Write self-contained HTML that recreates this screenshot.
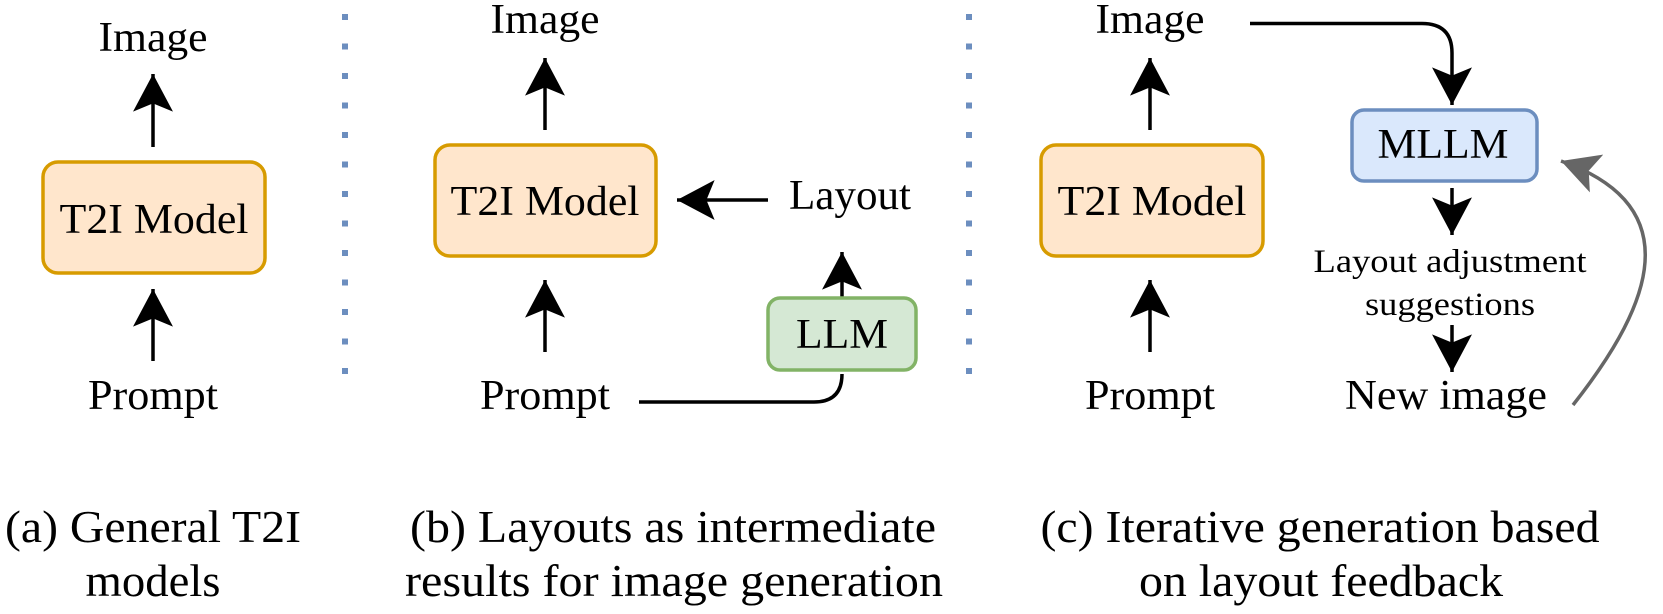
<!DOCTYPE html>
<html><head><meta charset="utf-8"><style>html,body{margin:0;padding:0;background:#fff}svg{display:block}</style></head>
<body>
<svg width="1663" height="614" viewBox="0 0 1663 614" xmlns="http://www.w3.org/2000/svg" font-family="'Liberation Serif', 'Times New Roman', Times, serif">
<defs>
<marker id="ah" markerUnits="userSpaceOnUse" markerWidth="40" markerHeight="40" viewBox="0 0 34 34" refX="32" refY="17" orient="auto">
<path d="M32,17 L0,0 L7,17 L0,34 Z" fill="#000"/>
</marker>
<marker id="ag" markerUnits="userSpaceOnUse" markerWidth="40" markerHeight="40" viewBox="0 0 34 34" refX="32" refY="17" orient="auto">
<path d="M32,17 L0,0 L7,17 L0,34 Z" fill="#666"/>
</marker>
</defs>
<g stroke="#6c8ebf" stroke-width="6" stroke-dasharray="6 23.5">
<line x1="345" y1="14" x2="345" y2="375"/>
<line x1="969" y1="14" x2="969" y2="375"/>
</g>
<g fill="none" stroke="#000" stroke-width="3.5">
<line x1="153" y1="147" x2="153" y2="74" marker-end="url(#ah)"/>
<line x1="153" y1="361" x2="153" y2="289" marker-end="url(#ah)"/>
<line x1="545" y1="130" x2="545" y2="58" marker-end="url(#ah)"/>
<line x1="545" y1="352" x2="545" y2="280" marker-end="url(#ah)"/>
<line x1="768" y1="200" x2="677" y2="200" marker-end="url(#ah)"/>
<line x1="842" y1="298" x2="842" y2="252" marker-end="url(#ah)"/>
<path d="M639,402 L814,402 Q842,402 842,374"/>
<line x1="1150" y1="130" x2="1150" y2="58" marker-end="url(#ah)"/>
<line x1="1150" y1="352" x2="1150" y2="280" marker-end="url(#ah)"/>
<path d="M1250,23.5 L1422,23.5 Q1452,23.5 1452,53 L1452,105" marker-end="url(#ah)"/>
<line x1="1452" y1="188" x2="1452" y2="235" marker-end="url(#ah)"/>
<line x1="1452" y1="325" x2="1452" y2="372" marker-end="url(#ah)"/>
</g>
<path d="M1573,405 C1640,320 1700,210 1561,161" fill="none" stroke="#666" stroke-width="3.5" marker-end="url(#ag)"/>
<g stroke-width="3.5">
<rect x="43" y="162" width="222" height="111" rx="15" fill="#ffe6cc" stroke="#d79b00"/>
<rect x="435" y="145" width="221" height="111" rx="15" fill="#ffe6cc" stroke="#d79b00"/>
<rect x="1041" y="145" width="222" height="111" rx="15" fill="#ffe6cc" stroke="#d79b00"/>
<rect x="768" y="298" width="148" height="72" rx="12" fill="#d5e8d4" stroke="#82b366"/>
<rect x="1352" y="110" width="185" height="71" rx="12" fill="#dae8fc" stroke="#6c8ebf"/>
</g>
<g font-size="42" text-anchor="middle" fill="#000" lengthAdjust="spacingAndGlyphs">
<text x="153" y="51" textLength="109" lengthAdjust="spacingAndGlyphs">Image</text>
<text x="154" y="233" textLength="189" lengthAdjust="spacingAndGlyphs">T2I Model</text>
<text x="153" y="409" textLength="130" lengthAdjust="spacingAndGlyphs">Prompt</text>
<text x="545" y="33" textLength="109" lengthAdjust="spacingAndGlyphs">Image</text>
<text x="545" y="215" textLength="189" lengthAdjust="spacingAndGlyphs">T2I Model</text>
<text x="545" y="409" textLength="130" lengthAdjust="spacingAndGlyphs">Prompt</text>
<text x="850" y="209" textLength="122" lengthAdjust="spacingAndGlyphs">Layout</text>
<text x="842" y="348" textLength="92" lengthAdjust="spacingAndGlyphs">LLM</text>
<text x="1150" y="33" textLength="109" lengthAdjust="spacingAndGlyphs">Image</text>
<text x="1152" y="215" textLength="189" lengthAdjust="spacingAndGlyphs">T2I Model</text>
<text x="1150" y="409" textLength="130" lengthAdjust="spacingAndGlyphs">Prompt</text>
<text x="1443" y="158" textLength="131" lengthAdjust="spacingAndGlyphs">MLLM</text>
<text x="1446" y="409" textLength="202" lengthAdjust="spacingAndGlyphs">New image</text>
</g>
<g font-size="33" text-anchor="middle" fill="#000">
<text x="1450" y="272" textLength="273" lengthAdjust="spacingAndGlyphs">Layout adjustment</text>
<text x="1450" y="315" textLength="170" lengthAdjust="spacingAndGlyphs">suggestions</text>
</g>
<g font-size="46" text-anchor="middle" fill="#000">
<text x="153" y="542" textLength="296" lengthAdjust="spacingAndGlyphs">(a) General T2I</text>
<text x="153" y="596" textLength="135" lengthAdjust="spacingAndGlyphs">models</text>
<text x="673" y="542" textLength="526" lengthAdjust="spacingAndGlyphs">(b) Layouts as intermediate</text>
<text x="674" y="596" textLength="538" lengthAdjust="spacingAndGlyphs">results for image generation</text>
<text x="1320" y="542" textLength="559" lengthAdjust="spacingAndGlyphs">(c) Iterative generation based</text>
<text x="1321" y="596" textLength="364" lengthAdjust="spacingAndGlyphs">on layout feedback</text>
</g>
</svg>
</body></html>
